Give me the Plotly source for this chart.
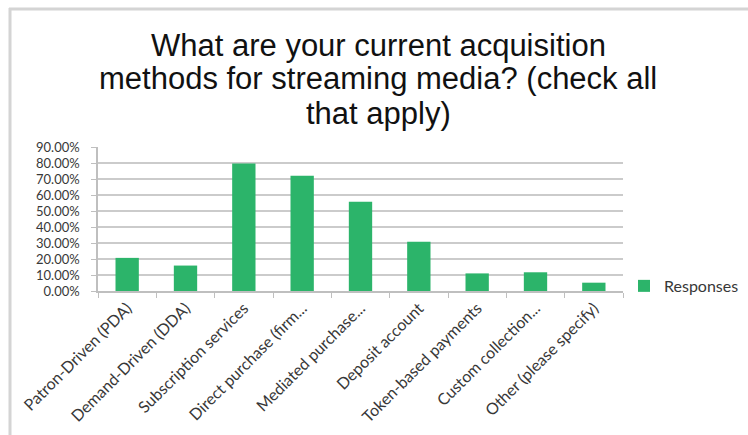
import plotly.graph_objects as go

categories = [
    "Patron-Driven (PDA)",
    "Demand-Driven (DDA)",
    "Subscription services",
    "Direct purchase (firm...",
    "Mediated purchase...",
    "Deposit account",
    "Token-based payments",
    "Custom collection...",
    "Other (please specify)",
]
responses = [0.207, 0.159, 0.797, 0.721, 0.558, 0.308, 0.110, 0.117, 0.052]
y_ticks = [0.0, 0.1, 0.2, 0.3, 0.4, 0.5, 0.6, 0.7, 0.8, 0.9]
y_tick_labels = ["0.00%", "10.00%", "20.00%", "30.00%", "40.00%", "50.00%",
                 "60.00%", "70.00%", "80.00%", "90.00%"]

title_lines = [
    "What are your current acquisition",
    "methods for streaming media? (check all",
    "that apply)",
]

W, H = 748, 435
ML, MR, MT, MB = 98, 125, 147, 144
PW = W - ML - MR
PH = H - MT - MB


def px_x(x):
    return (x - ML) / PW


def px_y(y):
    return (H - MB - y) / PH


fig = go.Figure()
fig.add_trace(go.Bar(
    x=categories,
    y=responses,
    name="Responses",
    marker=dict(color="#2cb46a", line=dict(width=0)),
    width=0.4,
    showlegend=True,
))

grid_col = "#cbcbcb"
text_col = "#383838"
label_font = dict(family="Lato, Calibri, sans-serif", size=16, color=text_col)

fig.update_layout(
    width=W, height=H,
    margin=dict(l=ML, r=MR, t=MT, b=MB, autoexpand=False),
    paper_bgcolor="white",
    plot_bgcolor="white",
    showlegend=True,
    legend=dict(
        x=1.0 + 1 / PW, xanchor="left", xref="paper",
        y=0.035, yanchor="middle", yref="paper",
        font=dict(family="Lato, Calibri, sans-serif", size=16, color=text_col),
        bgcolor="rgba(0,0,0,0)",
    ),
    bargap=0.6,
    xaxis=dict(
        type="category",
        tickangle=-45,
        tickfont=label_font,
        ticks="outside",
        tickson="boundaries",
        ticklen=5,
        tickcolor="#bfbfbf",
        showline=True,
        linecolor="#bfbfbf",
        linewidth=1.5,
        showgrid=False,
    ),
    yaxis=dict(
        range=[0, 0.9],
        tickvals=y_ticks,
        ticktext=y_tick_labels,
        tickfont=dict(family="Lato, Calibri, sans-serif", size=13, color=text_col),
        ticks="outside",
        ticklen=5,
        tickcolor="#bfbfbf",
        ticklabelstandoff=9,
        showline=True,
        linecolor="#bfbfbf",
        linewidth=1.5,
        showgrid=True,
        gridcolor=grid_col,
        gridwidth=1.5,
        zeroline=False,
    ),
)

# Chart title, one line per annotation for tight line spacing
title_font = dict(family="Liberation Sans, Arial, sans-serif", size=31, color="#111111")
for i, line in enumerate(title_lines):
    fig.add_annotation(
        text=line, showarrow=False,
        xref="paper", yref="paper",
        x=px_x(378), y=px_y(45 + 34 * i),
        xanchor="center", yanchor="middle",
        font=title_font,
    )

# Outer chart frame (top and left edges)
fig.add_shape(type="line", xref="paper", yref="paper",
              x0=px_x(9), x1=px_x(W), y0=px_y(9), y1=px_y(9),
              line=dict(color="#d4d4d4", width=3))
fig.add_shape(type="line", xref="paper", yref="paper",
              x0=px_x(10), x1=px_x(10), y0=px_y(8), y1=px_y(H),
              line=dict(color="#d4d4d4", width=3))

fig.write_html("out.html")
